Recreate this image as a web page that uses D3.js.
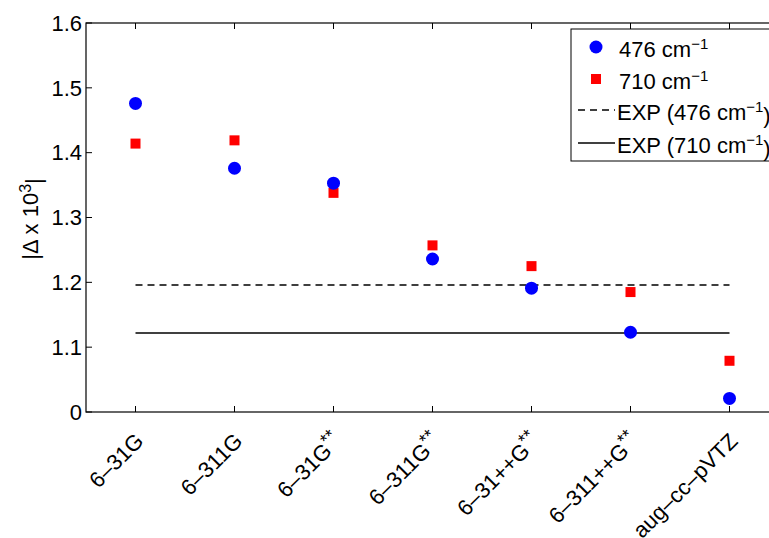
<!DOCTYPE html>
<html>
<head>
<meta charset="utf-8">
<script src="https://cdn.jsdelivr.net/npm/d3@7"></script>
<style>
  body { margin: 0; background: #fff; }
  svg { display: block; font-family: "Liberation Sans", Arial, sans-serif; }
</style>
</head>
<body>
<svg id="chart" width="769" height="538"></svg>
<script>
// basis sets on the x axis
const basisSets = ["6\u201331G", "6\u2013311G", "6\u201331G**", "6\u2013311G**", "6\u201331++G**", "6\u2013311++G**", "aug\u2013cc\u2013pVTZ"];
// |Delta x 10^3| for the two modes
const mode476 = [1.476, 1.376, 1.353, 1.236, 1.191, 1.123, 1.021];
const mode710 = [1.414, 1.419, 1.338, 1.257, 1.225, 1.185, 1.079];
// experimental reference values
const exp476 = 1.196;
const exp710 = 1.122;
// y ticks as shown
const yTicks = [1.0, 1.1, 1.2, 1.3, 1.4, 1.5, 1.6];
const yTickLabels = ["0", "1.1", "1.2", "1.3", "1.4", "1.5", "1.6"];

const svg = d3.select("#chart");
const mLeft = 86, mRight = 779, mTop = 23, mBottom = 412;

const x = d3.scalePoint().domain(basisSets).range([mLeft, mRight]).padding(0.5);
const y = d3.scaleLinear().domain([1.0, 1.6]).range([mBottom, mTop]);

const fontSize = 22;

// frame (right side falls outside the window)
svg.append("rect")
    .attr("x", mLeft).attr("y", mTop)
    .attr("width", mRight - mLeft).attr("height", mBottom - mTop)
    .attr("fill", "none").attr("stroke", "#000").attr("stroke-width", 1.2);

// x ticks (bottom and top, inside)
const tickLen = 6;
basisSets.forEach(b => {
    svg.append("line").attr("x1", x(b)).attr("x2", x(b))
        .attr("y1", mBottom).attr("y2", mBottom - tickLen)
        .attr("stroke", "#000");
    svg.append("line").attr("x1", x(b)).attr("x2", x(b))
        .attr("y1", mTop).attr("y2", mTop + tickLen)
        .attr("stroke", "#000");
});

// y ticks
yTicks.forEach((t, i) => {
    svg.append("line").attr("x1", mLeft).attr("x2", mLeft + tickLen)
        .attr("y1", y(t)).attr("y2", y(t))
        .attr("stroke", "#000");
    svg.append("text")
        .attr("x", mLeft - 4).attr("y", y(t))
        .attr("dy", "0.35em")
        .attr("text-anchor", "end")
        .attr("font-size", fontSize)
        .text(yTickLabels[i]);
});

// rotated x tick labels
svg.append("g").selectAll("text")
    .data(basisSets)
    .enter().append("text")
    .attr("transform", d => `translate(${x(d) + 4},${mBottom + 25}) rotate(-45)`)
    .attr("dy", "0.35em")
    .attr("text-anchor", "end")
    .attr("font-size", fontSize)
    .each(function(d) {
        const t = d3.select(this);
        const m = d.match(/^(.*?)(\*\*)?$/);
        t.append("tspan").text(m[1]);
        if (m[2]) t.append("tspan").attr("dy", "-0.45em").attr("font-size", 18).text("**");
    });

// y axis label
const yl = svg.append("text")
    .attr("transform", `translate(38,219) rotate(-90)`)
    .attr("text-anchor", "middle")
    .attr("font-size", fontSize);
yl.append("tspan").text("|\u0394 x 10");
yl.append("tspan").attr("dy", "-0.45em").attr("font-size", 16).text("3");
yl.append("tspan").attr("dy", "0.45em").text("|");

// experimental lines
svg.append("line")
    .attr("x1", x(basisSets[0])).attr("x2", x(basisSets[basisSets.length - 1]))
    .attr("y1", y(exp476)).attr("y2", y(exp476))
    .attr("stroke", "#000").attr("stroke-width", 1.5)
    .attr("stroke-dasharray", "7,5");
svg.append("line")
    .attr("x1", x(basisSets[0])).attr("x2", x(basisSets[basisSets.length - 1]))
    .attr("y1", y(exp710)).attr("y2", y(exp710))
    .attr("stroke", "#000").attr("stroke-width", 1.5);

// red squares
const sq = 10;
svg.append("g").selectAll("rect")
    .data(mode710)
    .enter().append("rect")
    .attr("x", (d, i) => x(basisSets[i]) - sq / 2)
    .attr("y", d => y(d) - sq / 2)
    .attr("width", sq).attr("height", sq)
    .attr("fill", "#ff0000");

// blue circles
svg.append("g").selectAll("circle")
    .data(mode476)
    .enter().append("circle")
    .attr("cx", (d, i) => x(basisSets[i]))
    .attr("cy", d => y(d))
    .attr("r", 6.5)
    .attr("fill", "#0000ff");

// legend
const lg = svg.append("g");
lg.append("rect")
    .attr("x", 571).attr("y", 29)
    .attr("width", 260).attr("height", 132)
    .attr("fill", "#fff").attr("stroke", "#000").attr("stroke-width", 1);

function cmLabel(sel, pre, post) {
    sel.append("tspan").text(pre + "cm");
    sel.append("tspan").attr("dy", "-0.5em").attr("font-size", 15).text("\u22121");
    sel.append("tspan").attr("dy", "0.5em").text(post);
}

const rows = [47, 79, 110, 143];
lg.append("circle").attr("cx", 596).attr("cy", rows[0]).attr("r", 6.5).attr("fill", "#0000ff");
lg.append("rect").attr("x", 591).attr("y", rows[1] - 5).attr("width", 10).attr("height", 10).attr("fill", "#ff0000");
lg.append("line").attr("x1", 578).attr("x2", 615).attr("y1", rows[2]).attr("y2", rows[2])
    .attr("stroke", "#000").attr("stroke-width", 1.5).attr("stroke-dasharray", "7,5");
lg.append("line").attr("x1", 578).attr("x2", 615).attr("y1", rows[3]).attr("y2", rows[3])
    .attr("stroke", "#000").attr("stroke-width", 1.5);

const labels = [["476 ", ""], ["710 ", ""], ["EXP (476 ", ")"], ["EXP (710 ", ")"]];
labels.forEach((l, i) => {
    const t = lg.append("text")
        .attr("x", i < 2 ? 619 : 617).attr("y", rows[i])
        .attr("dy", "0.45em")
        .attr("font-size", fontSize);
    cmLabel(t, l[0], l[1]);
});
</script>
</body>
</html>
